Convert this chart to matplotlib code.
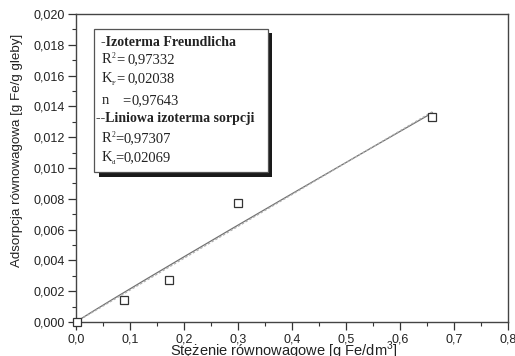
import numpy as np
import matplotlib
matplotlib.use("Agg")
import matplotlib.pyplot as plt
from matplotlib.patches import Rectangle
from matplotlib.ticker import MultipleLocator, FuncFormatter

# measured points
conc = [0.002, 0.088, 0.172, 0.300, 0.659]
ads = [0.00003, 0.00143, 0.00272, 0.00773, 0.01331]

# fit parameters shown in the box
kf = 0.02038
n_fr = 0.97643
kd = 0.02069
x_fit_max = 0.66

plt.rcParams['font.family'] = ['Liberation Sans', 'DejaVu Sans']
plt.rcParams['mathtext.fontset'] = 'custom'
plt.rcParams['mathtext.rm'] = 'Liberation Serif'
plt.rcParams['mathtext.sf'] = 'Liberation Sans'

W, H = 515, 356
fig = plt.figure(figsize=(W / 100, H / 100), dpi=100)
ax = fig.add_axes([76 / W, 1 - 322 / H, (508 - 76) / W, (322 - 14) / H])

xf = np.linspace(0, x_fit_max, 200)
ax.plot(xf, kf * xf ** n_fr, color='#707070', lw=0.9, zorder=2)
ax.plot(xf, kd * xf, color='#b0b0b0', lw=0.9, ls=(0, (2, 1.5)), zorder=3)
ax.plot(conc, ads, ls='none', marker='s', ms=6.2, mfc='white',
        mec='#333333', mew=0.9, zorder=4, clip_on=False)

ax.set_xlim(0, 0.8)
ax.set_ylim(0, 0.020)
ax.xaxis.set_major_locator(MultipleLocator(0.1))
ax.xaxis.set_minor_locator(MultipleLocator(0.05))
ax.yaxis.set_major_locator(MultipleLocator(0.002))
ax.yaxis.set_minor_locator(MultipleLocator(0.001))
ax.xaxis.set_major_formatter(FuncFormatter(lambda v, p: f"{v:.1f}".replace('.', ',')))
ax.yaxis.set_major_formatter(FuncFormatter(lambda v, p: f"{v:.3f}".replace('.', ',')))
ax.tick_params(which='major', direction='out', length=5.5, width=0.9,
               color='#333333', labelsize=9, pad=2.5, labelcolor='#222222')
ax.tick_params(which='minor', direction='out', length=3, width=0.8, color='#333333')
for s in ax.spines.values():
    s.set_color('#444444')
    s.set_linewidth(1.0)

fig.text(17.5 / W, 1 - 150 / H, 'Adsorpcja równowagowa [g Fe/g gleby]',
         rotation=90, ha='center', va='center', fontsize=9.6, color='#222222')
fig.text(284 / W, 1 - 356.5 / H, 'Stężenie równowagowe [g Fe/dm$^\\mathsf{3}$]',
         ha='center', va='baseline', fontsize=10.5, color='#222222')

# box with shadow, in pixel coordinates
def px_rect(x0, y0, x1, y1, **kw):
    return Rectangle((x0 / W, 1 - y1 / H), (x1 - x0) / W, (y1 - y0) / H,
                     transform=fig.transFigure, **kw)

fig.patches.append(px_rect(99, 33, 272, 177, facecolor='#1a1a1a', edgecolor='none', zorder=5))
fig.patches.append(px_rect(94, 29, 268, 172, facecolor='white', edgecolor='#555555',
                           lw=0.9, zorder=6))

serif = ['Liberation Serif', 'DejaVu Serif']
def txt(x, y, s, size=10.5, **kw):
    fig.text(x / W, 1 - y / H, s, family=serif, fontsize=size, color='#222222',
             va='baseline', ha='left', zorder=7, **kw)

txt(101, 46, '-Izoterma Freundlicha', size=10, weight='bold')
txt(102, 63, 'R')
txt(111.5, 58, '2', size=5.5)
txt(116, 63, '=')
txt(127, 63, '0,97332')
txt(102, 82, 'K')
txt(111.5, 85, 'F', size=5)
txt(116, 82, '=')
txt(127, 82, '0,02038')
txt(102, 104, 'n')
txt(122, 104, '=')
txt(132, 104, '0,97643')
txt(96, 122, '--Liniowa izoterma sorpcji', size=10, weight='bold')
txt(102, 142, 'R')
txt(111.5, 137, '2', size=5.5)
txt(115, 142, '=')
txt(123, 142, '0,97307')
txt(102, 161, 'K')
txt(111.5, 164, 'd', size=5)
txt(115, 161, '=')
txt(123, 161, '0,02069')

fig.savefig('out.png', dpi=100)
